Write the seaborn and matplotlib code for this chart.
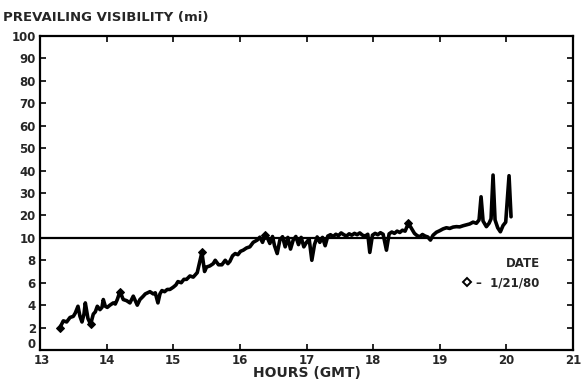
import numpy as np
import pandas as pd
import matplotlib
matplotlib.use("Agg")
import matplotlib.pyplot as plt
import matplotlib.transforms as mtransforms
from matplotlib.lines import Line2D
import seaborn as sns

# ---- data ----
hours = [
    13.30, 13.35, 13.40, 13.45, 13.50, 13.53, 13.57, 13.60, 13.63, 13.66,
    13.68, 13.72, 13.76, 13.80, 13.83, 13.86, 13.90, 13.93, 13.95, 13.98,
    14.01, 14.05, 14.10, 14.13, 14.16, 14.20, 14.25, 14.30, 14.35, 14.40,
    14.46, 14.50, 14.55, 14.58, 14.65, 14.70, 14.73, 14.77, 14.80, 14.83,
    14.87, 14.91, 14.95, 15.00, 15.04, 15.07, 15.12, 15.16, 15.20, 15.25,
    15.30, 15.36, 15.43, 15.47, 15.50, 15.55, 15.60, 15.63, 15.68, 15.73,
    15.78, 15.82, 15.85, 15.89, 15.93, 15.97, 16.01, 16.05, 16.10, 16.15,
    16.20, 16.26, 16.30, 16.34, 16.38, 16.42, 16.45, 16.49, 16.52, 16.56,
    16.60, 16.64, 16.68, 16.72, 16.76, 16.80, 16.84, 16.88, 16.92, 16.96,
    17.00, 17.04, 17.08, 17.12, 17.16, 17.20, 17.24, 17.28, 17.32, 17.36,
    17.40, 17.44, 17.48, 17.52, 17.56, 17.60, 17.64, 17.68, 17.72, 17.76,
    17.80, 17.84, 17.88, 17.92, 17.95, 17.99, 18.03, 18.07, 18.11, 18.15,
    18.20, 18.24, 18.28, 18.32, 18.36, 18.40, 18.44, 18.48, 18.53, 18.57,
    18.62, 18.66, 18.70, 18.74, 18.78, 18.82, 18.86, 18.90, 18.95, 19.00,
    19.05, 19.10, 19.15, 19.20, 19.25, 19.30, 19.35, 19.40, 19.45, 19.50,
    19.55, 19.59, 19.62, 19.65, 19.70, 19.74, 19.77, 19.80, 19.83, 19.87,
    19.91, 19.95, 19.99, 20.04, 20.07,
]
visibility = [
    2.0, 2.6, 2.5, 2.9, 3.0, 3.3, 3.9, 3.0, 2.5, 3.2,
    4.2, 2.8, 2.3, 3.2, 3.4, 3.9, 3.6, 3.8, 4.5, 3.9,
    3.8, 4.0, 4.2, 4.1, 4.5, 5.2, 4.5, 4.4, 4.2, 4.8,
    4.0, 4.5, 4.8, 5.0, 5.2, 5.0, 5.1, 4.2, 5.0, 5.3,
    5.2, 5.4, 5.4, 5.6, 5.8, 6.1, 6.0, 6.3, 6.3, 6.6,
    6.5, 6.9, 8.7, 7.0, 7.4, 7.5, 7.7, 8.0, 7.6, 7.6,
    8.0, 7.7, 7.9, 8.4, 8.6, 8.5, 8.8, 8.9, 9.1, 9.2,
    9.6, 9.8, 10.3, 9.6, 11.3, 9.9, 9.5, 10.6, 9.3, 8.6,
    9.8, 10.5, 9.2, 10.2, 9.0, 9.8, 10.6, 9.4, 10.2, 9.2,
    9.6, 9.9, 8.0, 9.4, 10.4, 9.6, 10.2, 9.3, 10.8, 11.4,
    10.6, 11.6, 11.0, 12.2, 11.4, 10.8, 11.8, 11.2, 12.0, 11.4,
    12.2, 11.2, 10.8, 11.6, 8.7, 11.2, 12.0, 11.4, 12.3, 11.6,
    8.9, 11.8, 12.6, 12.0, 13.0, 12.4, 13.4, 13.0, 16.5, 14.5,
    12.0, 11.0, 10.5, 11.5, 10.8, 10.4, 9.8, 11.2, 12.5, 13.2,
    14.0, 14.5, 14.2, 14.8, 15.0, 14.9, 15.4, 15.8, 16.2, 17.0,
    16.5, 18.0, 28.3, 17.5, 15.0, 16.5, 18.5, 38.0, 18.0, 14.5,
    12.7, 15.5, 17.0, 37.7, 19.4,
]
marked_hours = [13.30, 13.76, 14.20, 15.43, 16.38, 18.53]

x_ticks = [13, 14, 15, 16, 17, 18, 19, 20, 21]
y_ticks = [0, 2, 4, 6, 8, 10, 20, 30, 40, 50, 60, 70, 80, 90, 100]
y_tick_labels = [str(v) for v in y_ticks]

title_text = "PREVAILING VISIBILITY (mi)"
x_label = "HOURS (GMT)"
legend_title = "DATE"
legend_label = "\u2013  1/21/80"

df = pd.DataFrame({"hours": hours, "visibility": visibility})

# ---- figure ----
sns.set_style("ticks")
plt.rcParams["font.family"] = ["DejaVu Sans"]
plt.rcParams["font.weight"] = "bold"

fig = plt.figure(figsize=(5.82, 3.86), dpi=100)
ax = fig.add_axes([40 / 582, 36 / 386, 533 / 582, 314 / 386])


def fwd(y):
    y = np.asarray(y, dtype=float)
    return np.where(y <= 10, y, 10 + (y - 10) / 5.0)


def inv(z):
    z = np.asarray(z, dtype=float)
    return np.where(z <= 10, z, 10 + (z - 10) * 5.0)


ax.set_yscale("function", functions=(fwd, inv))

mark_idx = [hours.index(h) for h in marked_hours]
sns.lineplot(data=df, x="hours", y="visibility", ax=ax, color="black",
             linewidth=2.6, sort=False, estimator=None,
             marker="D", markersize=4.5, markevery=mark_idx,
             markerfacecolor="black", markeredgecolor="black")

ax.axhline(10, color="black", linewidth=1.6)

ax.set_xlim(13, 21)
ax.set_ylim(0, 100)
ax.set_xticks(x_ticks)
ax.set_xticklabels([str(v) for v in x_ticks])
ax.set_yticks(y_ticks)
ax.set_yticklabels(y_tick_labels)
ax.minorticks_off()

ax.tick_params(axis="both", which="major", direction="in", length=4, width=1.4,
               top=True, right=True, labelsize=8.5, pad=3)
for lab in ax.get_xticklabels() + ax.get_yticklabels():
    lab.set_fontweight("bold")

# lift the y "0" label a little so it clears the x "13" label (as in the reference)
ylab0 = ax.get_yticklabels()[0]
ylab0.set_transform(ylab0.get_transform() +
                    mtransforms.ScaledTranslation(0, 5 / 72, fig.dpi_scale_trans))
xlab0 = ax.get_xticklabels()[0]
xlab0.set_transform(xlab0.get_transform() +
                    mtransforms.ScaledTranslation(1.5 / 72, 0, fig.dpi_scale_trans))

for s in ax.spines.values():
    s.set_visible(True)
    s.set_linewidth(1.6)
    s.set_color("black")

ax.set_xlabel(x_label, fontsize=10, fontweight="bold", labelpad=-1)
ax.set_ylabel("")

fig.text(3 / 582, 1 - 18 / 386, title_text, fontsize=9.5, fontweight="bold",
         ha="left", va="center")

handle = Line2D([], [], marker="D", linestyle="none", markersize=4,
                markerfacecolor="white", markeredgecolor="black",
                markeredgewidth=1.4)
leg = ax.legend([handle], [legend_label], title=legend_title, frameon=False,
                loc="center", bbox_to_anchor=(0.865, 0.245),
                handlelength=0.8, handletextpad=0.4, borderpad=0,
                prop={"weight": "bold", "size": 8.5},
                title_fontproperties={"weight": "bold", "size": 8.5})
leg._legend_box.align = "right"

fig.savefig("out.png", dpi=100)
